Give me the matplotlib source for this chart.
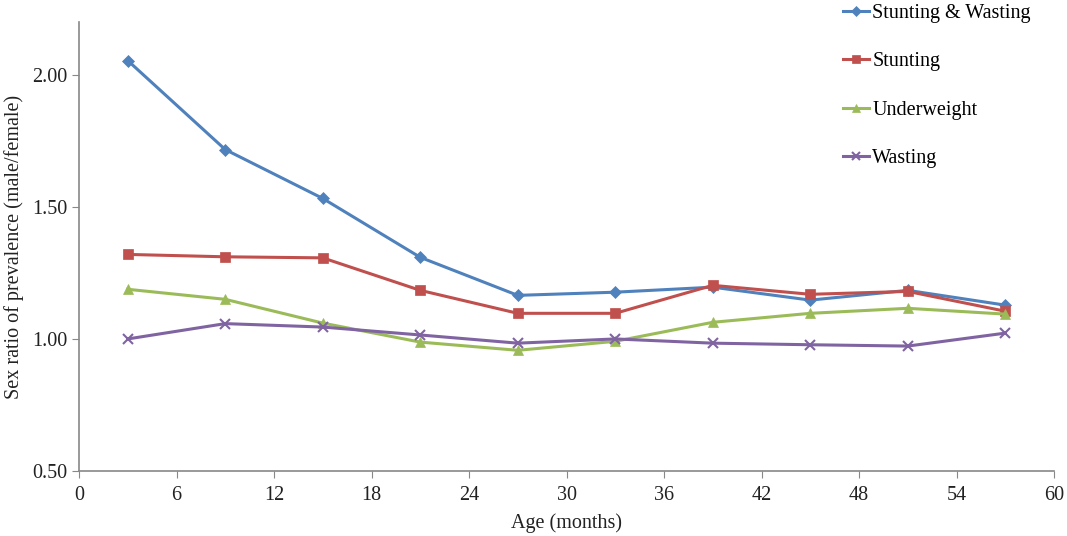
import matplotlib.pyplot as plt

plt.rcParams["font.family"] = ["Liberation Serif", "DejaVu Serif"]

age = [3, 9, 15, 21, 27, 33, 39, 45, 51, 57]
stunting_wasting = [2.054, 1.717, 1.532, 1.309, 1.165, 1.177, 1.196, 1.147, 1.184, 1.128]
stunting = [1.320, 1.311, 1.307, 1.184, 1.097, 1.097, 1.203, 1.169, 1.180, 1.105]
underweight = [1.188, 1.150, 1.060, 0.988, 0.957, 0.991, 1.063, 1.097, 1.116, 1.094]
wasting = [1.000, 1.058, 1.045, 1.015, 0.984, 1.000, 0.984, 0.978, 0.973, 1.022]

series = [
    ("Stunting & Wasting", stunting_wasting, "#4F81BD", "D", 6.5),
    ("Stunting", stunting, "#C0504D", "s", 7.5),
    ("Underweight", underweight, "#9BBB59", "^", 7.5),
    ("Wasting", wasting, "#8064A2", "x", 7),
]

fs = 14.5

fig = plt.figure(figsize=(10.67, 5.36), dpi=100)
ax = fig.add_axes([79 / 1067, 65 / 536, (1054 - 79) / 1067, (471 - 22) / 536])

for name, vals, col, mk, ms in series:
    ax.plot(age, vals, color=col, linewidth=2.2, marker=mk, markersize=ms,
            markeredgewidth=1.5 if mk == "x" else 0.5, markeredgecolor=col,
            label=name)

ax.set_xlim(0, 60)
ax.set_ylim(0.5, 2.2)
ax.set_xticks(range(0, 61, 6))
ax.set_yticks([0.5, 1.0, 1.5, 2.0])
ax.set_yticklabels(["0.50", "1.00", "1.50", "2.00"])
for s in ["top", "right"]:
    ax.spines[s].set_visible(False)
for s in ["left", "bottom"]:
    ax.spines[s].set_color("#888888")
    ax.spines[s].set_linewidth(1.2)
ax.tick_params(direction="out", length=5, color="#888888", labelsize=fs,
               labelcolor="#222222")
ax.tick_params(axis="x", pad=6)
ax.set_xlabel("Age (months)", fontsize=fs, color="#222222", labelpad=6)
ax.set_ylabel("Sex ratio of prevalence (male/female)", fontsize=fs,
              color="#222222", labelpad=6)

fig.legend(loc="upper left", bbox_to_anchor=(843 / 1067, 1 - 4 / 536), frameon=False,
           fontsize=fs, handlelength=1.3, handletextpad=0.15,
           labelspacing=1.45, borderaxespad=0, borderpad=0.0, markerscale=0.8)

fig.savefig("out.png", dpi=100)
